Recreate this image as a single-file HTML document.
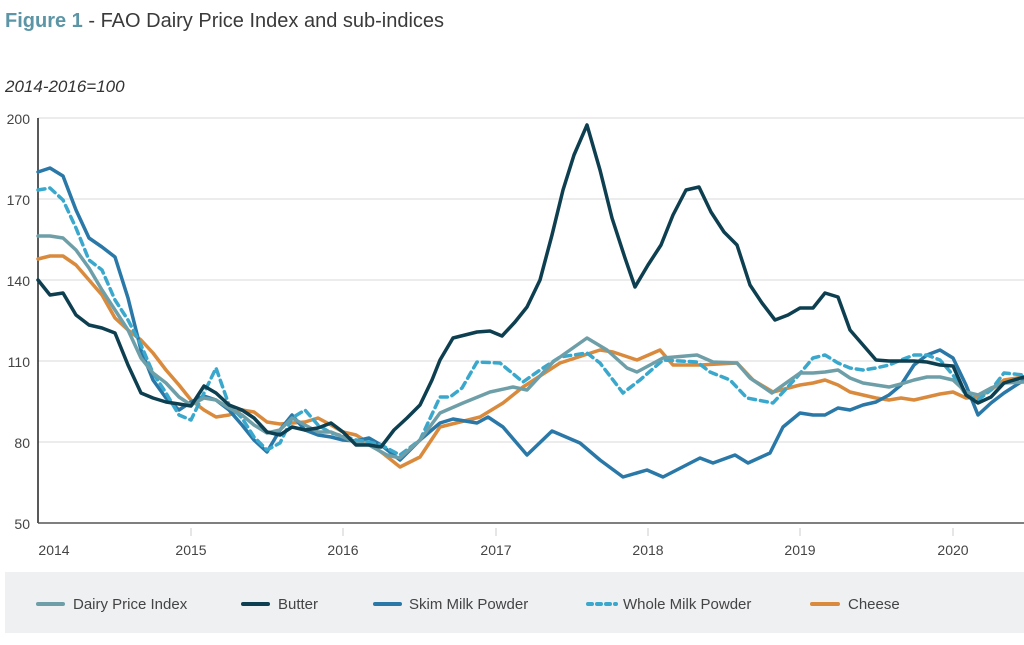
<!DOCTYPE html>
<html><head><meta charset="utf-8"><style>
body{margin:0;background:#fff;width:1024px;height:640px;overflow:hidden;font-family:"Liberation Sans",sans-serif}
</style></head><body>
<svg width="1024" height="640" xmlns="http://www.w3.org/2000/svg" font-family="Liberation Sans, sans-serif">
<text x="5" y="27" font-size="20" fill="#3a3a3a"><tspan fill="#5b95a6" font-weight="bold">Figure 1</tspan> - FAO Dairy Price Index and sub-indices</text>
<text x="5" y="92" font-size="17" font-style="italic" fill="#333">2014-2016=100</text>
<g stroke="#d8d8d8" stroke-width="1">
<line x1="38" y1="118" x2="1024" y2="118"/><line x1="38" y1="199" x2="1024" y2="199"/>
<line x1="38" y1="280" x2="1024" y2="280"/><line x1="38" y1="361" x2="1024" y2="361"/>
<line x1="38" y1="442" x2="1024" y2="442"/>
</g>
<line x1="38" y1="118" x2="38" y2="523" stroke="#222" stroke-width="1.5"/>
<line x1="38" y1="523" x2="1024" y2="523" stroke="#555" stroke-width="1.5"/>
<g stroke="#ccc"><line x1="191" y1="528" x2="191" y2="536"/><line x1="343" y1="528" x2="343" y2="536"/><line x1="496" y1="528" x2="496" y2="536"/><line x1="648" y1="528" x2="648" y2="536"/><line x1="800" y1="528" x2="800" y2="536"/><line x1="953" y1="528" x2="953" y2="536"/></g>
<g font-size="14" fill="#444" text-anchor="end">
<text x="30" y="124">200</text><text x="30" y="205">170</text><text x="30" y="286">140</text><text x="30" y="367">110</text><text x="30" y="448">80</text><text x="30" y="529">50</text>
</g>
<g font-size="14" fill="#444" text-anchor="middle">
<text x="54" y="555">2014</text><text x="191" y="555">2015</text><text x="343" y="555">2016</text><text x="496" y="555">2017</text><text x="648" y="555">2018</text><text x="800" y="555">2019</text><text x="953" y="555">2020</text>
</g>
<g fill="none" stroke-width="3.5" stroke-linejoin="round" stroke-linecap="round">
<polyline stroke="#d98a3c" points="38,259 50,256 63,256 76,265 89,280 102,295 115,318 128,330 141,340 153,353 166,370 179,385 191,400 204,410 216,417 229,415 242,410 254,412 267,422 280,424 292,423 305,422 318,418 331,425 343,432 356,435 369,443 385,455 400,467 420,457 440,427 480,417 503,403 523,387 560,363 600,350 613,352 637,360 660,350 673,365 700,365 737,363 753,380 773,392 800,385 813,383 825,380 838,385 850,392 863,395 876,398 889,400 901,398 914,400 927,397 940,394 953,392 966,398 978,397 991,390 1004,380 1024,377"/>
<polyline stroke="#2a78a8" points="38,172 50,168 63,176 76,210 89,238 102,247 115,257 128,298 141,350 153,380 166,398 179,410 191,402 204,396 216,400 229,410 242,425 254,440 267,452 280,430 292,415 305,430 318,435 331,437 343,440 356,441 369,438 381,445 400,460 420,440 440,423 453,419 477,423 488,417 503,427 527,455 552,431 580,443 600,460 623,477 647,470 663,477 700,458 713,463 735,455 748,463 770,453 783,427 800,413 813,415 825,415 838,408 850,410 863,405 876,402 889,395 901,385 914,365 927,355 940,350 953,358 966,385 978,415 991,403 1004,393 1024,380"/>
<polyline stroke="#3aa8cc" stroke-dasharray="7,5" points="38,190 50,188 63,200 76,228 89,260 102,270 115,300 128,320 141,345 153,373 166,393 179,415 191,420 204,393 216,368 229,405 242,418 254,437 267,450 280,443 292,418 305,410 318,425 331,433 343,436 356,440 369,442 381,445 400,455 420,440 440,397 450,397 462,388 477,362 500,363 523,382 540,370 560,357 587,353 600,363 623,393 640,380 663,360 697,362 710,372 730,380 747,398 773,403 797,377 813,358 825,355 838,363 850,368 863,370 876,368 889,365 901,360 914,355 927,355 940,360 953,375 966,395 978,400 991,390 1004,373 1024,375"/>
<polyline stroke="#6e9fa8" points="38,236 50,236 63,238 76,250 89,268 102,290 115,310 128,330 141,358 153,373 166,383 179,397 191,405 204,398 216,400 229,408 242,415 254,425 267,433 280,430 292,418 305,425 318,432 331,432 343,437 356,443 369,445 387,455 400,458 420,440 440,413 463,403 490,392 513,387 527,390 553,362 587,338 607,350 627,368 637,372 663,358 697,355 713,362 737,363 750,378 772,393 800,373 813,373 825,372 838,370 850,378 863,383 876,385 889,387 901,384 914,380 927,377 940,377 953,380 966,392 978,395 991,388 1004,383 1024,382"/>
<polyline stroke="#0d3f50" points="38,280 50,295 63,293 76,315 89,325 102,328 115,333 128,365 141,393 153,398 166,402 179,404 191,406 204,386 216,393 229,405 242,410 254,418 267,432 280,435 292,427 305,430 318,428 331,423 343,432 356,445 369,445 381,447 394,430 407,418 420,405 432,380 440,360 453,338 465,335 477,332 490,331 502,336 515,322 527,307 540,280 552,235 563,190 574,155 587,125 600,170 612,218 625,258 635,287 648,265 661,245 673,215 686,190 699,187 711,212 724,232 737,245 750,285 762,303 775,320 788,315 800,308 813,308 825,293 838,297 850,330 863,345 876,360 889,361 901,361 914,361 927,362 940,365 953,366 966,395 978,403 991,397 1004,383 1024,377"/>
</g>
<rect x="5" y="572" width="1019" height="61" fill="#eef0f2"/>
<g stroke-width="4" stroke-linecap="round">
<line x1="38" y1="604" x2="63" y2="604" stroke="#6e9fa8"/>
<line x1="243" y1="604" x2="268" y2="604" stroke="#0d3f50"/>
<line x1="375" y1="604" x2="400" y2="604" stroke="#2a78a8"/>
<line x1="588" y1="604" x2="616" y2="604" stroke="#3aa8cc" stroke-dasharray="4,5"/>
<line x1="812" y1="604" x2="838" y2="604" stroke="#d98a3c"/>
</g>
<g font-size="15" fill="#444">
<text x="73" y="609">Dairy Price Index</text>
<text x="278" y="609">Butter</text>
<text x="409" y="609">Skim Milk Powder</text>
<text x="623" y="609">Whole Milk Powder</text>
<text x="848" y="609">Cheese</text>
</g>
</svg>
</body></html>
